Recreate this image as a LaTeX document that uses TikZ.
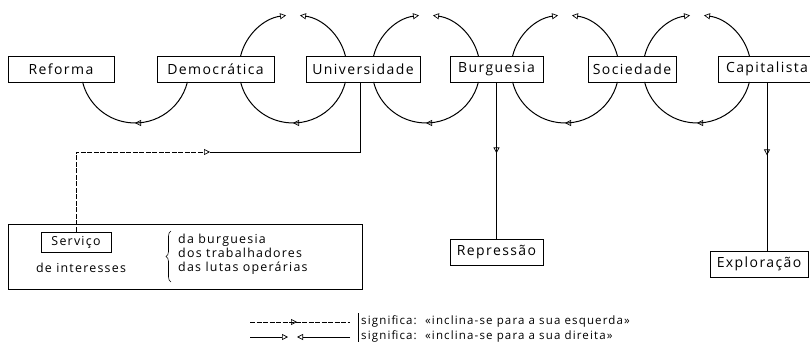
\documentclass[tikz,border=0pt]{standalone}
\usepackage{fontspec}
\setmainfont{Open Sans}[LetterSpace=10]
\usetikzlibrary{arrows.meta,decorations.markings,decorations.pathreplacing}
\tikzset{
  x=1pt,y=1pt,
  Tri/.tip={Triangle[open,length=6pt,width=6pt,line width=0.7pt]},
  box/.style={draw,line width=0.8pt,minimum height=26pt,inner sep=0pt,font=\fontsize{14}{16}\selectfont},
  loop/.style={line width=1pt},
  thinline/.style={line width=0.6pt},
  brokenline/.style={dash pattern=on 5pt off 1.5pt},
  midarrow/.style={postaction={decorate},decoration={markings,mark=at position #1 with {\arrow{Tri}}}},
  smalltext/.style={font=\fontsize{12.4}{14}\selectfont,inner sep=0pt},
  legendtext/.style={font=\fontsize{11.5}{13}\selectfont,inner sep=0pt,anchor=west},
}
\begin{document}
\begin{tikzpicture}
\useasboundingbox[fill=white] (0,0) rectangle (810,-352);
% top row
\node[box,minimum width=106pt] (ref)  at (61,-69)    {Reforma};
\node[box,minimum width=117pt] (dem)  at (215.5,-69) {Democrática};
\node[box,minimum width=114pt] (univ) at (363,-69)   {Universidade};
\node[box,minimum width=93pt]  (burg) at (496.5,-69) {Burguesia};
\node[box,minimum width=88pt]  (soc)  at (632,-69)   {Sociedade};
\node[box,minimum width=98pt]  (cap)  at (767,-69)   {Capitalista};
% lower boxes
\node[box,minimum width=93pt]  (rep)  at (496.5,-252) {Repressão};
\node[box,minimum width=98pt]  (expl) at (759,-264)   {Exploração};
\node[draw,line width=0.6pt,minimum width=354pt,minimum height=65pt] (big) at (185,-256.5) {};
\node[draw,line width=0.6pt,minimum width=70pt,minimum height=20pt,smalltext] (serv) at (76,-242) {Serviço};
\node[smalltext] (inter) at (81,-268) {de interesses};
\node[smalltext,anchor=west,align=left] (list) at (178,-254) {da burguesia\\dos trabalhadores\\das lutas operárias};
\coordinate (brb) at (171,-282);
\coordinate (brt) at (171,-231);
\draw[thinline,decorate,decoration={brace,amplitude=5pt}] (brb) -- (brt);
% top loops
\foreach \c/\n in {293/a,426/b,565/c,697/d}{
  \coordinate (top\n) at (\c,-69);
  \draw[loop,-{Tri}] ([shift={(166.1:54pt)}]top\n) arc[start angle=166.1,end angle=97.4,radius=54pt];
  \draw[loop,-{Tri}] ([shift={(13.9:54pt)}]top\n) arc[start angle=13.9,end angle=82.6,radius=54pt];
}
% bottom loops
\foreach \c/\n in {135/a,293/b,426/c,565/d,697/e}{
  \coordinate (bot\n) at (\c,-69);
  \draw[loop,midarrow=0.5] ([shift={(-13.9:54pt)}]bot\n) arc[start angle=-13.9,end angle=-166.1,radius=54pt];
}
% Universidade -> Servico
\coordinate (bend) at (serv.north |- 0,-152);
\coordinate (hmid) at (210,-152);
\coordinate (ubend) at (360,-152);
\draw[thinline,brokenline,-{Tri}] (serv.north) -- (bend) -- (hmid);
\draw[thinline] (hmid) -- (ubend) -- (ubend |- univ.south);
% verticals
\draw[thinline,midarrow=71pt] (burg.south) -- (rep.north);
\draw[thinline,midarrow=73pt] (cap.south) -- (cap.south |- expl.north);
% legend
\coordinate (l1a) at (250,-322);
\coordinate (l1b) at (350,-322);
\draw[thinline,brokenline,midarrow=0.47] (l1a) -- (l1b);
\coordinate (l2a) at (250,-337);
\coordinate (l2m) at (288,-337);
\coordinate (l2n) at (297,-337);
\coordinate (l2b) at (350,-337);
\draw[thinline,-{Tri}] (l2a) -- (l2m);
\draw[thinline,-{Tri}] (l2b) -- (l2n);
\coordinate (bart) at (358,-313);
\coordinate (barb) at (358,-342);
\draw[line width=0.5pt] (bart) -- (barb);
\node[legendtext] (t1) at (361,-321) {significa:\ \ «inclina-se para a sua esquerda»};
\node[legendtext] (t2) at (361,-336) {significa:\ \ «inclina-se para a sua direita»};
\end{tikzpicture}
\end{document}
